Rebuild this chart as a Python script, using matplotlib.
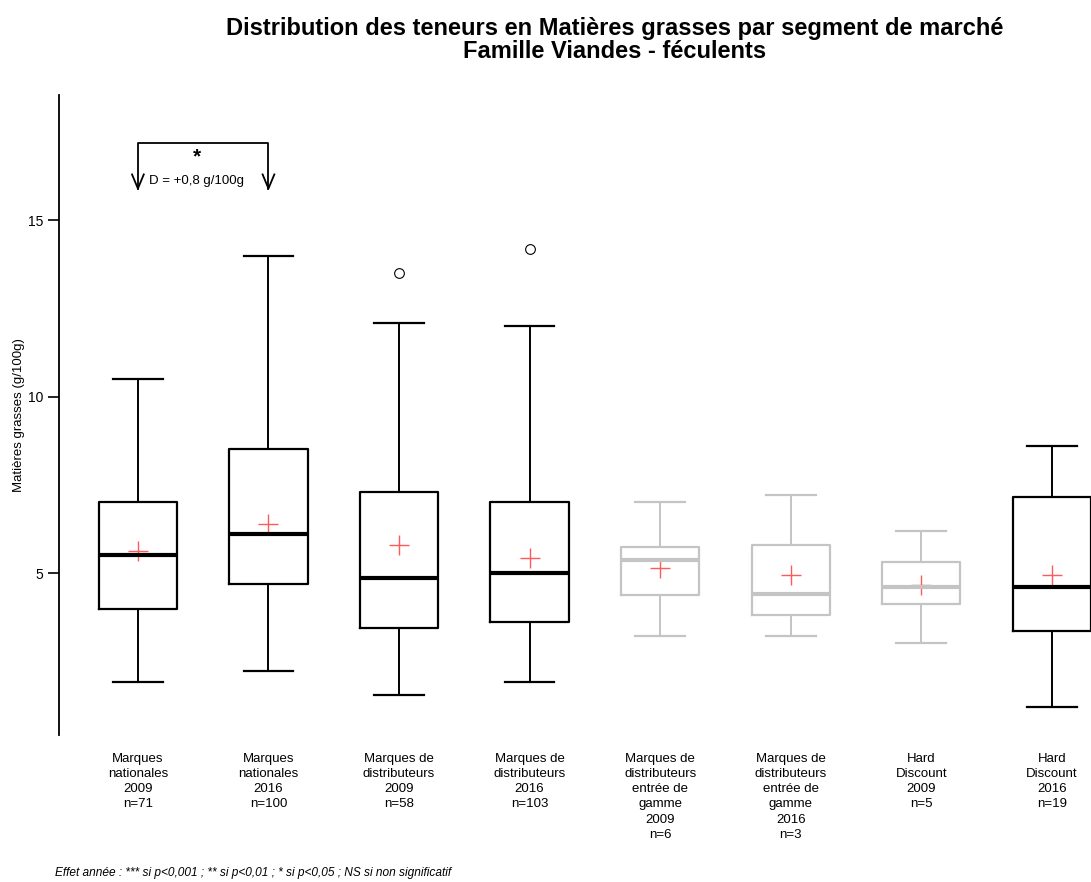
import matplotlib.pyplot as plt

plt.rcParams['font.family'] = ['Liberation Sans', 'DejaVu Sans']

# data
segments = ["Marques\nnationales\n2009\nn=71", "Marques\nnationales\n2016\nn=100",
            "Marques de\ndistributeurs\n2009\nn=58", "Marques de\ndistributeurs\n2016\nn=103",
            "Marques de\ndistributeurs\nentrée de\ngamme\n2009\nn=6",
            "Marques de\ndistributeurs\nentrée de\ngamme\n2016\nn=3",
            "Hard\nDiscount\n2009\nn=5", "Hard\nDiscount\n2016\nn=19"]
whis_low = [1.93, 2.24, 1.56, 1.93, 3.23, 3.23, 3.03, 1.22]
q1 = [3.99, 4.70, 3.46, 3.63, 4.39, 3.82, 4.14, 3.37]
medians = [5.52, 6.12, 4.87, 5.01, 5.38, 4.42, 4.62, 4.62]
q3 = [7.03, 8.53, 7.31, 7.03, 5.75, 5.81, 5.33, 7.17]
whis_high = [10.51, 14.0, 12.10, 12.01, 7.03, 7.22, 6.20, 8.61]
means = [5.64, 6.40, 5.81, 5.44, 5.16, 4.96, 4.67, 4.96]
outliers = [[], [], [13.51], [14.19], [], [], [], []]
small_n = [False, False, False, False, True, True, True, False]

fig = plt.figure(figsize=(10.91, 8.82), dpi=100)
ax = fig.add_axes([0.054, 0.1667, 0.946, 0.7256])

pos = list(range(1, len(segments) + 1))
for i, p in enumerate(pos):
    col = '#c4c4c4' if small_n[i] else 'black'
    st = [dict(whislo=whis_low[i], q1=q1[i], med=medians[i], q3=q3[i],
               whishi=whis_high[i], fliers=outliers[i])]
    ax.bxp(st, positions=[p], widths=0.6, capwidths=0.38, showmeans=False,
           boxprops=dict(color=col, lw=1.6),
           whiskerprops=dict(color=col, lw=1.4),
           capprops=dict(color=col, lw=1.6),
           medianprops=dict(color=col, lw=3),
           flierprops=dict(marker='o', mfc='none', mec='black', ms=7, mew=0.8))
ax.plot(pos, means, ls='none', marker='+', color='#ff3030', ms=14, mew=1.0, alpha=0.8)

# significance bracket
ax.plot([1, 1, 2, 2], [15.9, 17.2, 17.2, 15.9], color='black', lw=1.3)
for xp in (1, 2):
    ax.plot([xp - 0.045, xp, xp + 0.045], [16.3, 15.9, 16.3], color='black', lw=1.3)
ax.text(1.45, 16.8, '*', ha='center', va='center', fontsize=15, fontweight='bold')
ax.text(1.45, 16.1, 'D = +0,8 g/100g', ha='center', va='center', fontsize=9.5)

ax.set_xlim(0.395, 8.30)
ax.set_ylim(0.42, 18.55)
ax.set_yticks([5, 10, 15])
ax.tick_params(axis='y', length=8, width=1.2, labelsize=10)
ax.set_xticks(pos)
ax.set_xticklabels(segments, fontsize=9.5, linespacing=1.35)
ax.tick_params(axis='x', length=0, pad=13)
for s in ('top', 'right', 'bottom'):
    ax.spines[s].set_visible(False)
ax.spines['left'].set_linewidth(1.3)
ax.set_ylabel('Matières grasses (g/100g)', fontsize=9.5)
ax.yaxis.set_label_coords(-0.033, 0.5)

fig.text(0.5637, 0.981, 'Distribution des teneurs en Matières grasses par segment de marché\nFamille Viandes - féculents',
         ha='center', va='top', fontsize=17, fontweight='bold', linespacing=1.02)
fig.text(0.05, 0.003, 'Effet année : *** si p<0,001 ; ** si p<0,01 ; * si p<0,05 ; NS si non significatif',
         fontsize=8.6, style='italic', ha='left', va='bottom')

fig.savefig('out.png', dpi=100)
